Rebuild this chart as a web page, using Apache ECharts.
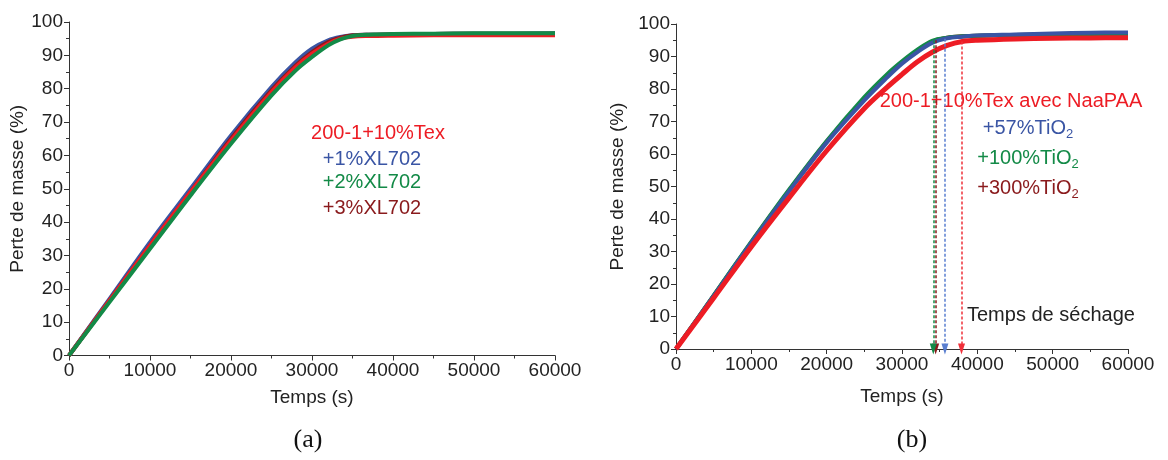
<!DOCTYPE html>
<html>
<head>
<meta charset="utf-8">
<script src="https://cdn.jsdelivr.net/npm/echarts@6/dist/echarts.min.js"></script>
<style>
html,body{margin:0;padding:0;background:#fff;}
#chart{width:1168px;height:460px;}
</style>
</head>
<body>
<div id="chart"></div>
<script>
// ---- Panel (a) data ----
const timeA = [0, 5000, 10000, 15000, 20000, 25000, 28000, 30000, 32000, 33500, 35000, 37000, 40000, 45000, 50000, 55000, 60000];
const aRef    = [0, 16.5, 33, 49, 64.5, 79, 86.5, 90.5, 93.5, 95, 95.6, 95.8, 95.9, 96, 96, 96, 96];
const aXL1    = [0, 17, 34, 50, 66, 80.5, 88, 92, 94.5, 95.5, 96, 96.2, 96.3, 96.4, 96.5, 96.5, 96.6];
const aXL2    = [0, 16, 32, 48, 63.5, 78, 85.5, 89.5, 93, 94.8, 95.8, 96.2, 96.4, 96.5, 96.6, 96.6, 96.6];
const aXL3    = [0, 16.5, 33, 49, 65, 79.5, 87, 91, 94, 95.3, 96, 96.2, 96.3, 96.4, 96.5, 96.5, 96.5];
const aNames  = ['200-1+10%Tex', '+1%XL702', '+2%XL702', '+3%XL702'];

// ---- Panel (b) data ----
const timeB = [0, 5000, 10000, 15000, 20000, 25000, 28000, 30000, 32000, 34000, 36000, 38000, 40000, 45000, 50000, 55000, 60000];
const bRef    = [0, 15.7, 31.5, 46.5, 61, 74, 80.5, 84.5, 88.3, 91.3, 93.4, 94.6, 95, 95.4, 95.6, 95.7, 95.8];
const bTi57   = [0, 16.3, 32.7, 48.5, 63.5, 76.5, 83.5, 87.8, 91.3, 94.2, 95.6, 96.1, 96.5, 96.8, 97.1, 97.3, 97.4];
const bTi100  = [0, 16.5, 33, 49, 64, 77.5, 84.5, 88.5, 92, 94.8, 95.8, 96.2, 96.4, 96.6, 96.8, 96.9, 97];
const bTi300  = [0, 16.4, 32.8, 48.7, 63.8, 77, 84, 88.2, 91.7, 94.6, 95.8, 96.2, 96.4, 96.6, 96.8, 96.9, 97];
// drying times (s) and curve level where arrows start (%)
const dryTime = { ref: 37900, ti57: 35700, ti100: 34150, ti300: 34470 };
const dryTop  = { ref: 94.6, ti57: 95.5, ti100: 95, ti300: 95 };

const C = { red: '#ed1c24', blue: '#3a55a4', green: '#138a47', dark: '#8a1a1c' };
const axisCol = '#333';
const font = 'Liberation Sans, Arial, sans-serif';

function pairs(t, v) { return t.map((x, i) => [x, v[i]]); }

function xAxis(gi, gap) {
  return {
    type: 'value', gridIndex: gi, min: 0, max: 60000, interval: 10000,
    name: 'Temps (s)', nameLocation: 'middle', nameGap: gap,
    nameTextStyle: { fontFamily: font, fontSize: 19, color: '#222' },
    axisLine: { show: true, lineStyle: { color: axisCol, width: 1 } },
    axisTick: { show: true, length: 5, inside: false, lineStyle: { color: axisCol } },
    minorTick: { show: true, splitNumber: 2, length: 3, lineStyle: { color: axisCol } },
    axisLabel: { fontFamily: font, fontSize: 19, color: '#222', margin: 6, formatter: (v) => String(v) },
    splitLine: { show: false }
  };
}
function yAxis(gi, gap) {
  return {
    type: 'value', gridIndex: gi, min: 0, max: 100, interval: 10,
    name: 'Perte de masse (%)', nameLocation: 'middle', nameGap: gap,
    nameTextStyle: { fontFamily: font, fontSize: 19, color: '#222' },
    axisLine: { show: true, lineStyle: { color: axisCol, width: 1 } },
    axisTick: { show: true, length: 5, inside: false, lineStyle: { color: axisCol } },
    minorTick: { show: true, splitNumber: 2, length: 3, lineStyle: { color: axisCol } },
    axisLabel: { fontFamily: font, fontSize: 19, color: '#222', margin: 6, formatter: (v) => String(v) },
    splitLine: { show: false }
  };
}
function line(name, gi, t, v, color, w, mark) {
  const s = {
    name, type: 'line', xAxisIndex: gi, yAxisIndex: gi, data: pairs(t, v),
    smooth: 0.35, showSymbol: false, symbol: 'none',
    lineStyle: { color, width: w }, itemStyle: { color }, silent: true, animation: false
  };
  if (mark) {
    s.markLine = {
      silent: true, animation: false,
      symbol: ['none', 'triangle'], symbolSize: [7, 11],
      label: { show: false },
      itemStyle: { color: mark.color },
      lineStyle: { color: mark.color, width: 1.5, type: [3, 2], opacity: 1 },
      data: [[{ coord: [mark.t, mark.top] }, { coord: [mark.t, 0] }]]
    };
  }
  return s;
}

const subRich = (col) => ({ s: { fontSize: 13, fill: col, fontFamily: font, padding: [12, 0, 0, 0], verticalAlign: 'bottom' } });
function txt(x, y, text, col, rich) {
  const st = { text, x, y, fill: col, font: '20px ' + font, align: 'center', verticalAlign: 'middle' };
  if (rich) st.rich = subRich(col);
  return { type: 'text', silent: true, style: st };
}

const option = {
  animation: false,
  backgroundColor: '#fff',
  grid: [
    { left: 69, top: 22, width: 486, height: 333.5 },
    { left: 676, top: 24, width: 452, height: 325 }
  ],
  xAxis: [xAxis(0, 33), xAxis(1, 38)],
  yAxis: [yAxis(0, 33), yAxis(1, 49)],
  series: [
    line(aNames[1], 0, timeA, aXL1, C.blue, 4),
    line(aNames[3], 0, timeA, aXL3, C.dark, 4),
    line(aNames[0], 0, timeA, aRef, C.red, 4),
    line(aNames[2], 0, timeA, aXL2, C.green, 4),

    line('+300%TiO2', 1, timeB, bTi300, C.dark, 4, { t: dryTime.ti300, top: dryTop.ti300, color: C.dark }),
    line('+100%TiO2', 1, timeB, bTi100, C.green, 4, { t: dryTime.ti100, top: dryTop.ti100, color: C.green }),
    line('+57%TiO2', 1, timeB, bTi57, C.blue, 4, { t: dryTime.ti57, top: dryTop.ti57, color: '#5a7fd0' }),
    line('200-1+10%Tex avec NaaPAA', 1, timeB, bRef, C.red, 5, { t: dryTime.ref, top: dryTop.ref, color: '#f0303a' })
  ],
  graphic: [
    txt(378, 133, aNames[0], C.red),
    txt(372, 159, aNames[1], C.blue),
    txt(372, 182, aNames[2], C.green),
    txt(372, 208, aNames[3], C.dark),
    txt(1011, 101, '200-1+10%Tex avec NaaPAA', C.red),
    txt(1028, 128, '+57%TiO{s|2}', C.blue, true),
    txt(1028, 158, '+100%TiO{s|2}', C.green, true),
    txt(1028, 188, '+300%TiO{s|2}', C.dark, true),
    { type: 'text', silent: true, style: { text: 'Temps de séchage', x: 967, y: 315, fill: '#222', font: '20px ' + font, align: 'left', verticalAlign: 'middle' } },
    { type: 'text', silent: true, style: { text: '(a)', x: 308, y: 440, fill: '#111', font: '26px Liberation Serif, Times New Roman, serif', align: 'center', verticalAlign: 'middle' } },
    { type: 'text', silent: true, style: { text: '(b)', x: 912, y: 440, fill: '#111', font: '26px Liberation Serif, Times New Roman, serif', align: 'center', verticalAlign: 'middle' } }
  ]
};

const chart = echarts.init(document.getElementById('chart'), null, { renderer: 'canvas' });
chart.setOption(option);
</script>
</body>
</html>
